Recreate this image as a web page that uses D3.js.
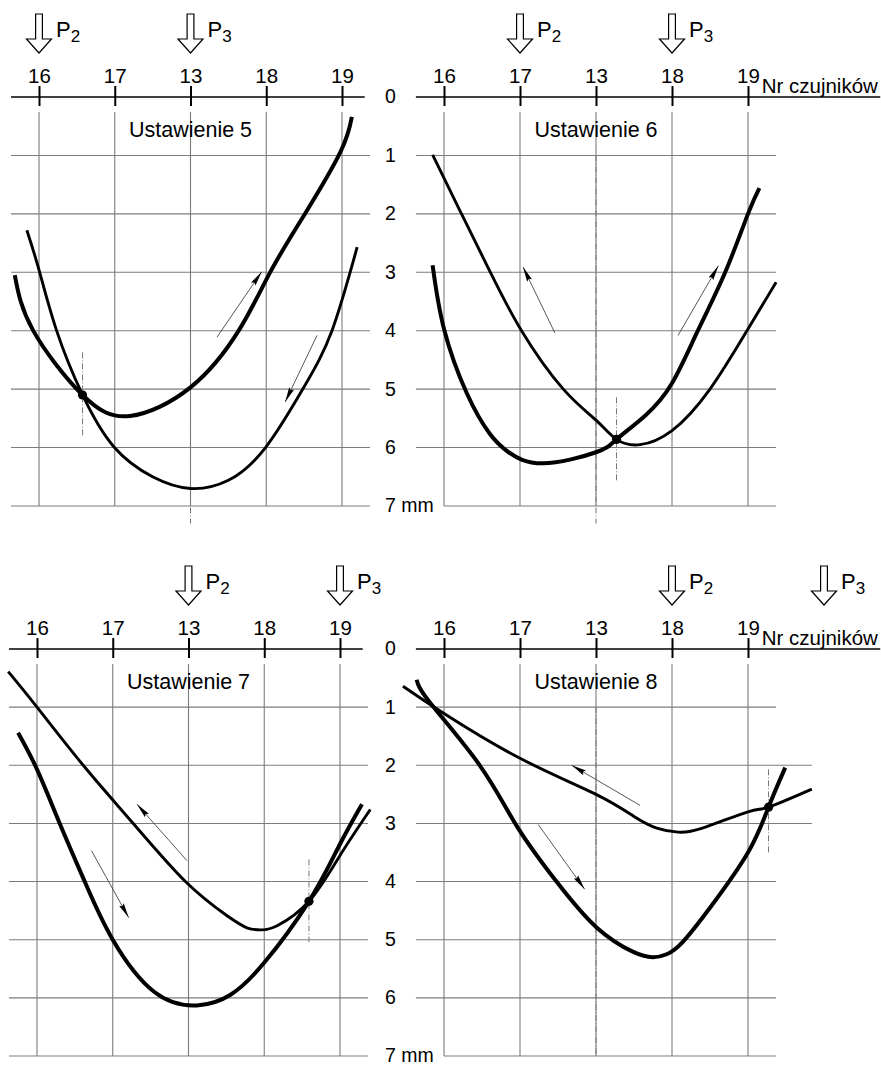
<!DOCTYPE html>
<html>
<head>
<meta charset="utf-8">
<script src="https://cdn.jsdelivr.net/npm/d3@7"></script>
<style>
  body { margin: 0; background: #fff; }
  svg { display: block; }
</style>
</head>
<body>
<script>
// sensor order along the axis
var sensors = ["16", "17", "13", "18", "19"];
var mmTicks = [0, 1, 2, 3, 4, 5, 6, 7];
var titles = ["Ustawienie 5", "Ustawienie 6", "Ustawienie 7", "Ustawienie 8"];

// where the loads P2 / P3 sit (sensor index) in every setting
var posP2 = [0, 1, 2, 3];
var posP3 = [2, 3, 4, 5];

// curves: [sensor index, deflection mm]
var set5Thick = [[-0.32, 3.05], [-0.08, 3.99], [0.575, 5.10], [1.2, 5.46],
  [2.0, 4.97], [2.64, 3.99], [3.06, 2.98], [3.52, 1.98], [3.98, 0.94], [4.13, 0.34]];
var set5Thin = [[-0.16, 2.28], [0.0, 2.96], [0.23, 3.99], [0.575, 5.10], [0.99, 5.99], [1.5, 6.5],
  [2.0, 6.70], [2.5, 6.56], [2.99, 6.0], [3.5, 4.96], [3.87, 3.99], [4.2, 2.57]];

var set6Thick = [[-0.15, 2.88], [0.0, 3.97], [0.3, 5.07], [0.6, 5.76], [0.85, 6.08], [1.3, 6.27],
  [2.0, 6.08], [2.27, 5.86], [2.65, 5.45], [3.0, 4.9], [3.34, 4.0], [3.70, 3.0], [4.0, 2.0], [4.15, 1.56]];
var set6Thin = [[-0.15, 0.99], [0.23, 2.0], [0.61, 3.0], [1.02, 4.0], [1.57, 5.0], [2.0, 5.53],
  [2.27, 5.86], [2.58, 5.95], [3.0, 5.71], [3.5, 5.0], [4.0, 3.97], [4.37, 3.17]];

var set7Thick = [[-0.25, 1.44], [0.0, 2.07], [0.3, 3.0], [0.63, 4.0], [1.0, 5.0], [1.55, 5.9],
  [2.11, 6.13], [2.55, 5.95], [2.99, 5.41], [3.59, 4.34], [3.99, 3.38], [4.29, 2.67]];
var set7Thin = [[-0.38, 0.39], [0.0, 1.0], [0.61, 2.0], [1.27, 3.0], [1.96, 4.0], [2.5, 4.58],
  [2.78, 4.80], [2.97, 4.83], [3.17, 4.76], [3.59, 4.34], [4.0, 3.55], [4.40, 2.76]];

var set8Thick = [[-0.36, 0.53], [-0.18, 0.93], [0.47, 2.0], [0.96, 3.05], [1.48, 4.0], [2.0, 4.78],
  [2.49, 5.21], [2.75, 5.30], [2.93, 5.25], [3.14, 5.04], [3.5, 4.45], [4.0, 3.50], [4.27, 2.72], [4.49, 2.04]];
var set8Thin = [[-0.54, 0.64], [0.0, 1.11], [1.0, 1.88], [2.0, 2.5], [2.5, 2.88], [2.8, 3.08],
  [3.08, 3.15], [3.4, 3.08], [4.0, 2.8], [4.27, 2.72], [4.84, 2.41]];

var thickCurves = [set5Thick, set6Thick, set7Thick, set8Thick];
var thinCurves = [set5Thin, set6Thin, set7Thin, set8Thin];

// crossing point of the two curves and the dashed mark through it (mm from, mm to)
var crossPoints = [[0.575, 5.10], [2.27, 5.86], [3.59, 4.34], [4.27, 2.72]];
var crossMarks = [[4.37, 5.79], [5.14, 6.56], [3.62, 5.04], [2.07, 3.53]];

// direction arrows: [from, to]
var dirArrows = [
  [[[2.35, 4.11], [2.94, 2.99]], [[3.67, 4.08], [3.25, 5.22]]],
  [[[1.46, 4.04], [1.04, 2.91]], [[3.08, 4.08], [3.61, 2.89]]],
  [[[1.98, 3.64], [1.32, 2.67]], [[0.72, 3.47], [1.21, 4.62]]],
  [[[2.58, 2.69], [1.68, 2.00]], [[1.24, 3.02], [1.85, 4.13]]]
];

var width = 881;
var height = 1066;
var FONT = "'Liberation Sans', Arial, Helvetica, sans-serif";

var layout = [
  {x0: 39, x1: 342, y0: 97, y1: 506, right: false, dashEnd: 7.3},
  {x0: 444, x1: 748, y0: 97, y1: 506, right: true, dashEnd: 7.3},
  {x0: 37, x1: 340, y0: 649, y1: 1056, right: false, dashEnd: 7.0},
  {x0: 444, x1: 748, y0: 649, y1: 1056, right: true, dashEnd: 7.0}
];

var svg = d3.select("body").append("svg")
  .attr("width", width)
  .attr("height", height)
  .style("font-family", FONT);

svg.append("defs").append("marker")
  .attr("id", "head")
  .attr("viewBox", "0 0 15 6")
  .attr("refX", 15)
  .attr("refY", 3)
  .attr("markerWidth", 15)
  .attr("markerHeight", 6)
  .attr("markerUnits", "userSpaceOnUse")
  .attr("orient", "auto")
  .append("path")
  .attr("d", "M0,0.3 L15,3 L0,5.7 L2,3 Z")
  .attr("fill", "#000");

function blockArrow(cx, tip) {
  return "M" + (cx - 3.4) + "," + (tip - 39) +
    " L" + (cx + 3.4) + "," + (tip - 39) +
    " L" + (cx + 3.4) + "," + (tip - 14) +
    " L" + (cx + 12.5) + "," + (tip - 14) +
    " L" + cx + "," + tip +
    " L" + (cx - 12.5) + "," + (tip - 14) +
    " L" + (cx - 3.4) + "," + (tip - 14) + " Z";
}

layout.forEach(function(L, i) {
  var x = d3.scaleLinear().domain([0, 4]).range([L.x0, L.x1]);
  var y = d3.scaleLinear().domain([0, 7]).range([L.y0, L.y1]);
  var g = svg.append("g");

  // horizontal grid
  mmTicks.filter(function(m) { return m > 0; }).forEach(function(m) {
    var xa = (L.right && m === 7) ? x(0) : x(-0.37);
    var xb = (i === 3 && (m === 2 || m === 3)) ? x(4.84) : x(4.37);
    g.append("line")
      .attr("x1", xa).attr("x2", xb)
      .attr("y1", y(m)).attr("y2", y(m))
      .attr("stroke", "#7c7c7c").attr("stroke-width", 1.1);
  });

  // vertical grid
  g.selectAll(".vgrid")
    .data(d3.range(sensors.length))
    .enter()
    .append("line")
    .attr("x1", function(k) { return x(k); })
    .attr("x2", function(k) { return x(k); })
    .attr("y1", L.y0 + 15)
    .attr("y2", y(7))
    .attr("stroke", "#7c7c7c").attr("stroke-width", 1.1);

  // dash-dot line under sensor 13
  g.append("line")
    .attr("x1", x(2)).attr("x2", x(2))
    .attr("y1", y(1)).attr("y2", y(L.dashEnd))
    .attr("stroke", "#777").attr("stroke-width", 1)
    .attr("stroke-dasharray", "6,2,1,2");

  // axis line
  g.append("line")
    .attr("x1", x(-0.37))
    .attr("x2", L.right ? x(5.74) : x(4.3))
    .attr("y1", L.y0).attr("y2", L.y0)
    .attr("stroke", "#000").attr("stroke-width", 1.4);

  var xAxis = d3.axisTop(x)
    .tickValues(d3.range(sensors.length))
    .tickFormat(function(k) { return sensors[k]; })
    .tickSize(11)
    .tickPadding(3);

  g.append("g")
    .attr("transform", "translate(0," + L.y0 + ")")
    .call(xAxis)
    .call(function(s) { s.select(".domain").remove(); })
    .call(function(s) {
      s.selectAll(".tick line").attr("y1", 9).attr("y2", -11)
        .attr("stroke", "#000").attr("stroke-width", 2);
    })
    .call(function(s) {
      s.selectAll(".tick text").attr("font-size", 20.5).attr("font-family", FONT).attr("fill", "#000");
    });

  if (!L.right) {
    var yAxis = d3.axisRight(y)
      .tickValues(mmTicks)
      .tickSize(0)
      .tickPadding(0)
      .tickFormat(function(m) { return m === 7 ? "7 mm" : m; });
    g.append("g")
      .attr("transform", "translate(385,0)")
      .call(yAxis)
      .call(function(s) { s.select(".domain").remove(); })
      .call(function(s) {
        s.selectAll(".tick text").attr("font-size", 19.5).attr("font-family", FONT)
          .attr("fill", "#000").attr("dy", "0.3em");
      });
  } else {
    g.append("text")
      .attr("x", x(4.18))
      .attr("y", L.y0 - 4)
      .attr("font-size", 20.5)
      .text("Nr czujników");
  }

  g.append("text")
    .attr("x", x(2))
    .attr("y", L.y0 + 40)
    .attr("text-anchor", "middle")
    .attr("font-size", 21.5)
    .text(titles[i]);

  // load arrows P2, P3
  [[posP2[i], "2"], [posP3[i], "3"]].forEach(function(p) {
    var cx = x(p[0]);
    g.append("path")
      .attr("d", blockArrow(cx, L.y0 - 44))
      .attr("fill", "#fff")
      .attr("stroke", "#000")
      .attr("stroke-width", 1.2);
    var t = g.append("text")
      .attr("x", cx + 17)
      .attr("y", L.y0 - 60)
      .attr("font-size", 22)
      .text("P");
    t.append("tspan")
      .attr("dy", 5)
      .attr("font-size", 17)
      .text(p[1]);
  });

  // dashed mark through the crossing point
  g.append("line")
    .attr("x1", x(crossPoints[i][0])).attr("x2", x(crossPoints[i][0]))
    .attr("y1", y(crossMarks[i][0])).attr("y2", y(crossMarks[i][1]))
    .attr("stroke", "#777").attr("stroke-width", 1)
    .attr("stroke-dasharray", "6,2,1,2");

  var line = d3.line()
    .x(function(d) { return x(d[0]); })
    .y(function(d) { return y(d[1]); })
    .curve(d3.curveNatural);

  g.append("path")
    .datum(thinCurves[i])
    .attr("d", line)
    .attr("fill", "none")
    .attr("stroke", "#000")
    .attr("stroke-width", 2.9);

  g.append("path")
    .datum(thickCurves[i])
    .attr("d", line)
    .attr("fill", "none")
    .attr("stroke", "#000")
    .attr("stroke-width", 4);

  g.append("circle")
    .attr("cx", x(crossPoints[i][0]))
    .attr("cy", y(crossPoints[i][1]))
    .attr("r", 4.6)
    .attr("fill", "#000");

  g.selectAll(".dir")
    .data(dirArrows[i])
    .enter()
    .append("line")
    .attr("x1", function(d) { return x(d[0][0]); })
    .attr("y1", function(d) { return y(d[0][1]); })
    .attr("x2", function(d) { return x(d[1][0]); })
    .attr("y2", function(d) { return y(d[1][1]); })
    .attr("stroke", "#444")
    .attr("stroke-width", 0.9)
    .attr("marker-end", "url(#head)");
});
</script>
</body>
</html>
